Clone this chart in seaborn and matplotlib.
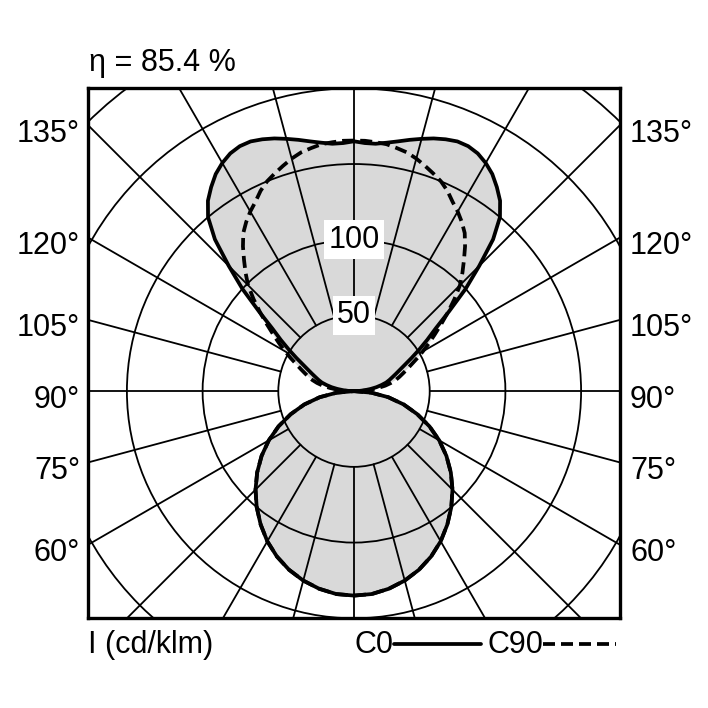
import numpy as np
import pandas as pd
import matplotlib
matplotlib.use("Agg")
import matplotlib.pyplot as plt
from matplotlib.patches import Circle
from matplotlib.lines import Line2D
from matplotlib.transforms import offset_copy
import seaborn as sns

# luminous intensity (cd/klm) vs gamma angle from nadir
gamma = [0, 5, 10, 15, 20, 25, 30, 35, 40, 45, 50, 55, 60, 65, 70, 75, 80, 85, 90,
         92.5, 95, 97.5, 100, 102.5, 105, 107.5, 110, 112.5, 115, 117.5, 120, 122.5, 125, 127.5,
         130, 132.5, 135, 137.5, 140, 142.5, 145, 147.5, 150, 152.5, 155, 157.5, 160, 162.5,
         165, 167.5, 170, 172.5, 175, 177.5, 180]
c0 = [135, 134.5, 132.5, 129.5, 125.5, 120.5, 114.5, 107.5, 100, 92, 83.5, 74.5, 65, 55, 44.5, 34, 23, 11.5, 0,
      3.5, 7, 11, 15, 18.5, 22, 24.5, 27, 30, 33.5, 38, 44, 51, 59, 68,
      82, 100, 117, 136, 150, 158.5, 164.5, 170, 174, 177, 178.5, 178.5, 177, 175,
      172.5, 170, 167.5, 165.5, 164, 164, 165]
c90 = [135, 134.5, 132.5, 129.5, 125.5, 120.5, 114.5, 107.5, 100, 92, 83.5, 74.5, 65, 55, 44.5, 34, 23, 11.5, 0,
       5.5, 11, 16, 21, 25, 28.5, 31.5, 34.5, 38, 42, 47, 52.5, 58.5, 65, 72.5,
       81, 90, 99, 106, 113, 120.5, 127.5, 132.5, 137, 141, 146, 150, 153, 156,
       159, 161.5, 163, 164.5, 165, 165.5, 165.5]

rings = [50, 100, 150, 200, 250]
ring_labels = [100, 50]
angle_ticks = [60, 75, 90, 105, 120, 135]
spokes = list(range(0, 360, 15))
eta_text = "η = 85.4 %"
unit_text = "I (cd/klm)"

sns.set_style("white")
plt.rcParams["font.family"] = ["Liberation Sans", "DejaVu Sans"]
plt.rcParams["font.size"] = 22
plt.rcParams["text.color"] = "black"

W = 708
fig = plt.figure(figsize=(7.08, 7.08), dpi=100)
ax = fig.add_axes([88 / W, 1 - 618 / W, 532 / W, 530 / W])
XL = 175.7
ax.set_xlim(-XL, XL)
ax.set_ylim(-149.8, 200.2)


def outline(g, vals):
    g = np.radians(np.array(g, dtype=float))
    v = np.array(vals, dtype=float)
    x = np.concatenate([v * np.sin(g), (-v * np.sin(g))[::-1]])
    y = np.concatenate([-v * np.cos(g), (-v * np.cos(g))[::-1]])
    return pd.DataFrame({"x": x, "y": y})


d0 = outline(gamma, c0)
d90 = outline(gamma, c90)

grey = "#d9d9d9"
ax.fill(d0["x"], d0["y"], color=grey, lw=0, zorder=1)
ax.fill(d90["x"], d90["y"], color=grey, lw=0, zorder=1)

# grid
for r in rings:
    ax.add_patch(Circle((0, 0), r, fill=False, ec="black", lw=1.3, zorder=2))
for s in spokes:
    a = np.radians(s)
    ax.plot([50 * np.sin(a), 400 * np.sin(a)], [-50 * np.cos(a), -400 * np.cos(a)],
            color="black", lw=1.3, zorder=2)

sns.lineplot(data=d90, x="x", y="y", sort=False, estimator=None, ax=ax,
             color="black", lw=2.7, linestyle=(0, (3.2, 1.6)), zorder=4)
sns.lineplot(data=d0, x="x", y="y", sort=False, estimator=None, ax=ax,
             color="black", lw=2.7, zorder=5)

for r in ring_labels:
    ax.text(0, r, str(r), ha="center", va="center", zorder=6,
            bbox=dict(facecolor="white", edgecolor="none", pad=3))

ax.set_xticks([])
ax.set_yticks([])
ax.set_xlabel("")
ax.set_ylabel("")
for sp in ax.spines.values():
    sp.set_visible(True)
    sp.set_color("black")
    sp.set_linewidth(2.4)
    sp.set_zorder(7)

left_tr = offset_copy(ax.transData, fig=fig, x=-8, y=-16.5, units="dots")
right_tr = offset_copy(ax.transData, fig=fig, x=10, y=-16.5, units="dots")
for t in angle_ticks:
    yy = -XL * np.cos(np.radians(t)) / np.sin(np.radians(t))
    lab = f"{t}°"
    ax.text(-XL, yy, lab, transform=left_tr, ha="right", va="baseline", clip_on=False)
    ax.text(XL, yy, lab, transform=right_tr, ha="left", va="baseline", clip_on=False)

fig.text(89 / W, 1 - 71.5 / W, eta_text, ha="left", va="baseline")
fig.text(88 / W, 1 - 653 / W, unit_text, ha="left", va="baseline")
fig.text(354.5 / W, 1 - 653 / W, "C0", ha="left", va="baseline")
fig.text(487.5 / W, 1 - 653 / W, "C90", ha="left", va="baseline")
fig.add_artist(Line2D([393.5 / W, 481 / W], [1 - 644 / W, 1 - 644 / W], color="black", lw=2.7))
fig.add_artist(Line2D([542.5 / W, 616 / W], [1 - 644 / W, 1 - 644 / W], color="black", lw=2.7,
                      linestyle=(0, (3.2, 1.6))))

fig.savefig("out.png", dpi=100, facecolor="white")
